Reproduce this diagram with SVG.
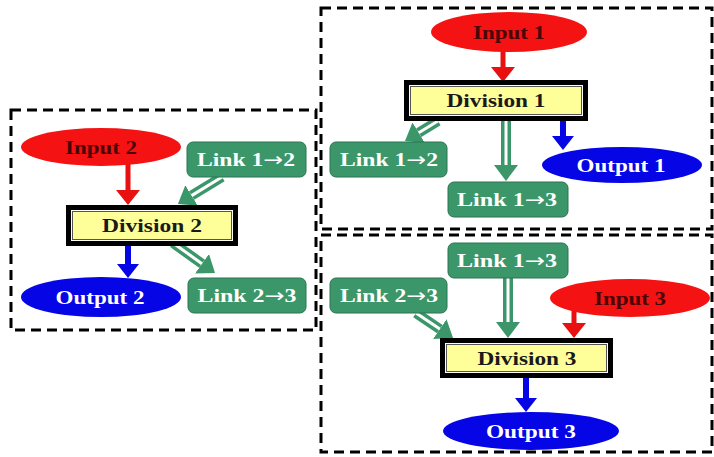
<svg xmlns="http://www.w3.org/2000/svg" width="714" height="457" viewBox="0 0 714 457">
<style>
text{font-family:"Liberation Serif","Times New Roman",serif;font-weight:bold;font-size:19px;text-anchor:middle}
.ar{font-family:"DejaVu Sans",sans-serif;font-weight:normal}
.frame{fill:none;stroke:#000;stroke-width:3;stroke-dasharray:10 6}
.in{fill:#f41212}
.in-t{fill:#4a0606}
.out{fill:#0505e6}
.out-t{fill:#fff}
.lk{fill:#3b966a;stroke:#2a7550;stroke-width:1}
.lk-t{fill:#fff}
.dv-o{fill:#000}
.dv-w{fill:#fff}
.dv-i{fill:#ffff99;stroke:#555;stroke-width:1}
.dv-t{fill:#1a1a1a}
.red{stroke:#e81010;stroke-width:5;fill:none}
.blue{stroke:#0505e6;stroke-width:6;fill:none}
.gr{stroke:#3b966a;stroke-width:10;fill:none}
.gw{stroke:#fff;stroke-width:3;fill:none}
</style>
<defs>
<marker id="hr" markerUnits="userSpaceOnUse" markerWidth="30" markerHeight="30" refX="0" refY="12" orient="auto" viewBox="0 0 30 30"><path d="M0,0 L15,12 L0,24 z" fill="#e81010"/></marker>
<marker id="hb" markerUnits="userSpaceOnUse" markerWidth="30" markerHeight="30" refX="0" refY="11" orient="auto" viewBox="0 0 30 30"><path d="M0,0 L14,11 L0,22 z" fill="#0505e6"/></marker>
<marker id="hg" markerUnits="userSpaceOnUse" markerWidth="30" markerHeight="30" refX="0" refY="12" orient="auto" viewBox="0 0 30 30"><path d="M0,0 L16,12 L0,24 z" fill="#3b966a"/></marker>
</defs>
<rect width="714" height="457" fill="#fff"/>
<g id="frames">
<rect class="frame" x="11" y="110" width="305" height="220"/>
<rect class="frame" x="321" y="8" width="391" height="221"/>
<rect class="frame" x="321" y="235" width="391" height="217"/>
</g>
<g id="connectors">
<line class="red" x1="128" y1="160" x2="128" y2="190" marker-end="url(#hr)"/>
<line class="blue" x1="128" y1="246" x2="128" y2="264" marker-end="url(#hb)"/>
<line class="gr" x1="222" y1="177" x2="191.6" y2="195.6" marker-end="url(#hg)"/>
<line class="gw" x1="222" y1="177" x2="191.6" y2="195.6"/>
<line class="gr" x1="173" y1="243" x2="202" y2="263.7" marker-end="url(#hg)"/>
<line class="gw" x1="173" y1="243" x2="202" y2="263.7"/>
<line class="red" x1="503" y1="48" x2="503" y2="67" marker-end="url(#hr)"/>
<line class="blue" x1="563" y1="121" x2="563" y2="136" marker-end="url(#hb)"/>
<line class="gr" x1="438" y1="121" x2="418.7" y2="132.7" marker-end="url(#hg)"/>
<line class="gw" x1="438" y1="121" x2="418.7" y2="132.7"/>
<line class="gr" x1="506" y1="121" x2="506" y2="165" marker-end="url(#hg)"/>
<line class="gw" x1="506" y1="121" x2="506" y2="165"/>
<line class="gr" x1="508" y1="278" x2="508" y2="322" marker-end="url(#hg)"/>
<line class="gw" x1="508" y1="278" x2="508" y2="322"/>
<line class="gr" x1="416" y1="313" x2="439.8" y2="329.1" marker-end="url(#hg)"/>
<line class="gw" x1="416" y1="313" x2="439.8" y2="329.1"/>
<line class="red" x1="574" y1="305" x2="574" y2="323" marker-end="url(#hr)"/>
<line class="blue" x1="526" y1="378" x2="526" y2="398" marker-end="url(#hb)"/>
</g>
<g id="input2"><ellipse class="in" cx="101" cy="147" rx="80" ry="19"/><text class="in-t" x="101" y="153.5" textLength="72" lengthAdjust="spacingAndGlyphs">Input 2</text></g>
<g id="link12a"><rect class="lk" x="187" y="142" width="119" height="35" rx="6"/><text class="lk-t" x="246" y="166" textLength="98" lengthAdjust="spacingAndGlyphs">Link 1<tspan class="ar">→</tspan>2</text></g>
<g id="division2"><rect class="dv-o" x="66" y="205" width="172" height="41"/><rect class="dv-w" x="71" y="210" width="162" height="31"/><rect class="dv-i" x="72.5" y="211.5" width="159" height="28"/><text class="dv-t" x="152" y="232" textLength="100" lengthAdjust="spacingAndGlyphs">Division 2</text></g>
<g id="output2"><ellipse class="out" cx="101" cy="297" rx="80" ry="20"/><text class="out-t" x="100" y="303.5" textLength="89" lengthAdjust="spacingAndGlyphs">Output 2</text></g>
<g id="link23a"><rect class="lk" x="188" y="278" width="118" height="35" rx="6"/><text class="lk-t" x="247" y="302" textLength="99" lengthAdjust="spacingAndGlyphs">Link 2<tspan class="ar">→</tspan>3</text></g>
<g id="input1"><ellipse class="in" cx="509" cy="32" rx="78" ry="20"/><text class="in-t" x="509" y="38.5" textLength="72" lengthAdjust="spacingAndGlyphs">Input 1</text></g>
<g id="division1"><rect class="dv-o" x="404" y="80" width="184" height="41"/><rect class="dv-w" x="409" y="85" width="174" height="31"/><rect class="dv-i" x="410.5" y="86.5" width="171" height="28"/><text class="dv-t" x="496" y="107" textLength="99" lengthAdjust="spacingAndGlyphs">Division 1</text></g>
<g id="link12b"><rect class="lk" x="330" y="142" width="117" height="35" rx="6"/><text class="lk-t" x="389" y="166" textLength="98" lengthAdjust="spacingAndGlyphs">Link 1<tspan class="ar">→</tspan>2</text></g>
<g id="link13a"><rect class="lk" x="448" y="182" width="120" height="35" rx="6"/><text class="lk-t" x="507" y="206" textLength="100" lengthAdjust="spacingAndGlyphs">Link 1<tspan class="ar">→</tspan>3</text></g>
<g id="output1"><ellipse class="out" cx="622" cy="165" rx="80" ry="18"/><text class="out-t" x="621" y="171.5" textLength="89" lengthAdjust="spacingAndGlyphs">Output 1</text></g>
<g id="link13b"><rect class="lk" x="448" y="243" width="120" height="35" rx="6"/><text class="lk-t" x="507" y="267" textLength="100" lengthAdjust="spacingAndGlyphs">Link 1<tspan class="ar">→</tspan>3</text></g>
<g id="link23b"><rect class="lk" x="330" y="278" width="117" height="35" rx="6"/><text class="lk-t" x="389" y="302" textLength="98" lengthAdjust="spacingAndGlyphs">Link 2<tspan class="ar">→</tspan>3</text></g>
<g id="input3"><ellipse class="in" cx="630" cy="298" rx="80" ry="19"/><text class="in-t" x="630" y="304.5" textLength="72" lengthAdjust="spacingAndGlyphs">Input 3</text></g>
<g id="division3"><rect class="dv-o" x="440" y="338" width="173" height="40"/><rect class="dv-w" x="445" y="343" width="163" height="30"/><rect class="dv-i" x="446.5" y="344.5" width="160" height="27"/><text class="dv-t" x="527" y="364.5" textLength="99" lengthAdjust="spacingAndGlyphs">Division 3</text></g>
<g id="output3"><ellipse class="out" cx="531" cy="431" rx="88" ry="19"/><text class="out-t" x="531" y="437.5" textLength="90" lengthAdjust="spacingAndGlyphs">Output 3</text></g>
</svg>
